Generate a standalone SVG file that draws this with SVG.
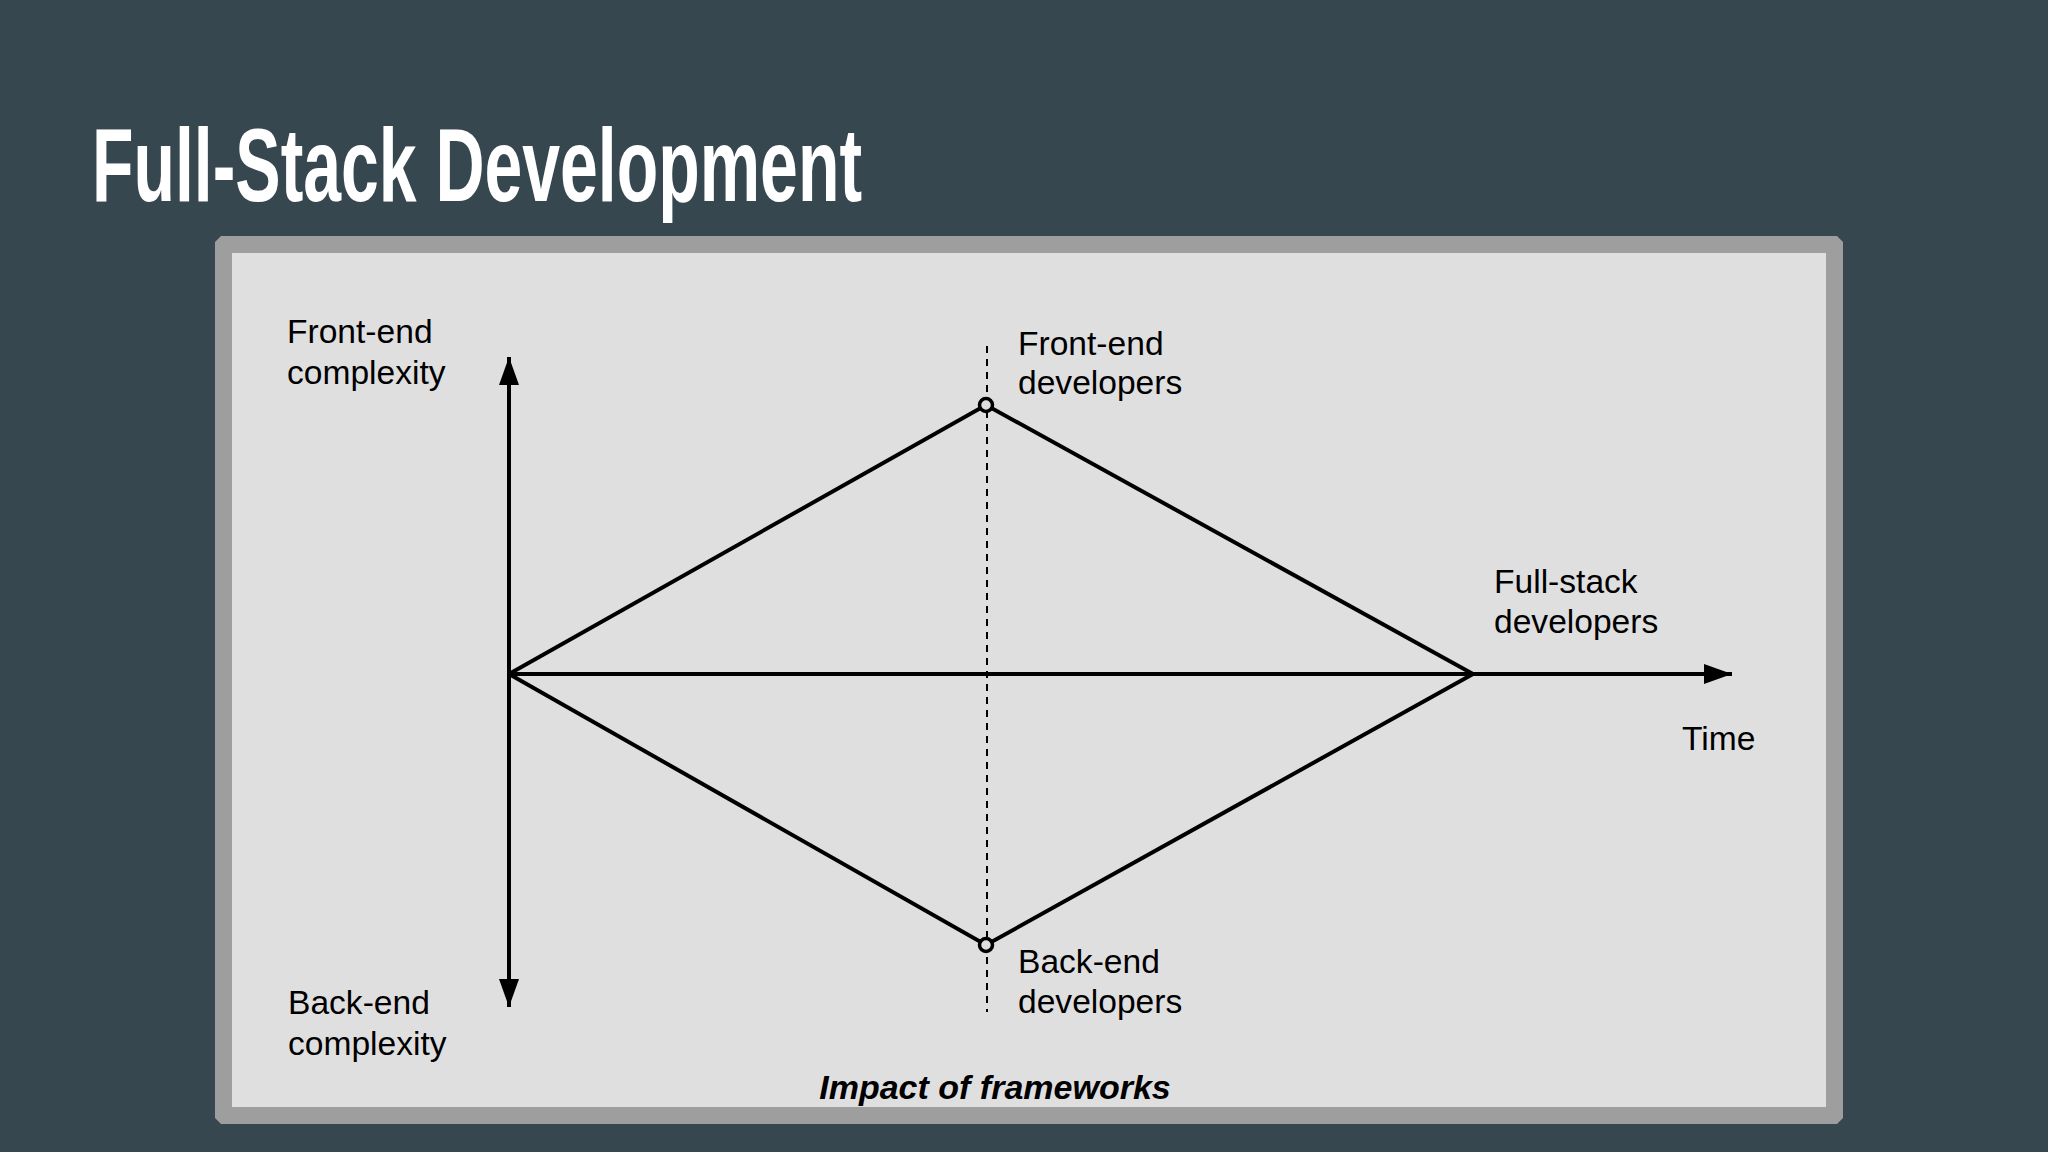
<svg xmlns="http://www.w3.org/2000/svg" width="2048" height="1152" viewBox="0 0 2048 1152">
<defs>
<style>
.lbl{font-family:"Liberation Sans",Arial,sans-serif;font-size:33.6px;fill:#000;}
.ln{stroke:#000;stroke-width:4;fill:none;}
</style>
<marker id="ah" viewBox="0 0 14 10" refX="14" refY="5" markerWidth="7" markerHeight="5" markerUnits="strokeWidth" orient="auto">
<path d="M0,0 L14,5 L0,10 Z" fill="#000"/>
</marker>
</defs>
<rect width="2048" height="1152" fill="#37474f"/>
<text x="92" y="201" font-family="Liberation Sans,Arial,sans-serif" font-weight="bold" font-size="104" fill="#fff" textLength="770" lengthAdjust="spacingAndGlyphs">Full-Stack Development</text>
<g id="frame">
<path d="M221,236 H1837 L1843,242 V1118 L1837,1124 H221 L215,1118 V242 Z" fill="#9e9e9e"/>
<rect x="232" y="253" width="1594" height="854" fill="#e0dfe0"/>
</g>
<g id="connectors">
<line class="ln" x1="509" y1="674" x2="509" y2="357" marker-end="url(#ah)"/>
<line class="ln" x1="509" y1="674" x2="509" y2="1007" marker-end="url(#ah)"/>
<line class="ln" x1="509" y1="674" x2="1732" y2="674" marker-end="url(#ah)"/>
<polyline class="ln" points="509,674 986,405 1473,674 986,945 509,674"/>
<line x1="987" y1="346" x2="987" y2="1012" stroke="#000" stroke-width="2" stroke-dasharray="7 6"/>
</g>
<g id="node-front-peak"><circle cx="986" cy="405" r="6.5" fill="#e0dfe0" stroke="#000" stroke-width="3.5"/></g>
<g id="node-back-peak"><circle cx="986" cy="945" r="6.5" fill="#e0dfe0" stroke="#000" stroke-width="3.5"/></g>
<g id="label-front-complexity"><text class="lbl" x="287" y="343">Front-end</text><text class="lbl" x="287" y="384">complexity</text></g>
<g id="label-back-complexity"><text class="lbl" x="288" y="1014">Back-end</text><text class="lbl" x="288" y="1055">complexity</text></g>
<g id="label-front-dev"><text class="lbl" x="1018" y="355">Front-end</text><text class="lbl" x="1018" y="394">developers</text></g>
<g id="label-back-dev"><text class="lbl" x="1018" y="973">Back-end</text><text class="lbl" x="1018" y="1013">developers</text></g>
<g id="label-fullstack"><text class="lbl" x="1494" y="593">Full-stack</text><text class="lbl" x="1494" y="633">developers</text></g>
<g id="label-time"><text class="lbl" x="1682" y="750">Time</text></g>
<g id="caption"><text x="995" y="1099" text-anchor="middle" font-family="Liberation Sans,Arial,sans-serif" font-size="34" font-weight="bold" font-style="italic" fill="#000">Impact of frameworks</text></g>
</svg>
